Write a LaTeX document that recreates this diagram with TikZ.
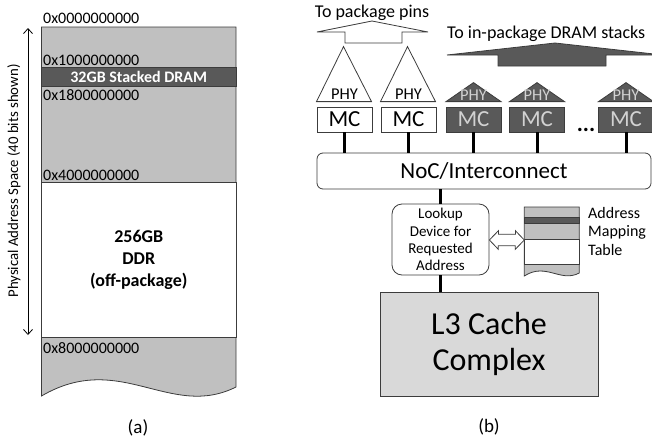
\documentclass[tikz,border=0pt]{standalone}
\usepackage{fontspec}
\setmainfont{Carlito}
\usetikzlibrary{arrows.meta,calc}

\definecolor{memgray}{RGB}{192,192,192}
\definecolor{darkfill}{RGB}{89,89,89}
\definecolor{edgegray}{RGB}{60,60,60}
\definecolor{cachegray}{RGB}{217,217,217}
\definecolor{lightlbl}{RGB}{210,210,210}

\tikzset{
  edge/.style={draw=edgegray, line width=0.8pt},
  bus/.style={line width=3pt},
  addr/.style={anchor=west, inner sep=0pt, font=\fontsize{16}{19}\selectfont},
  stackband/.style={edge, fill=darkfill, text=white, minimum width=194.5pt, minimum height=19pt, inner sep=0pt, font=\fontsize{16}{19}\selectfont\bfseries},
  ddrbox/.style={edge, fill=white, minimum width=194.5pt, minimum height=155pt, inner sep=0pt, align=center, font=\fontsize{18}{22}\selectfont\bfseries},
  toplbl/.style={anchor=base, inner sep=0pt, font=\fontsize{18}{21}\selectfont},
  mcbox/.style={edge, fill=white, minimum width=55pt, minimum height=25pt, inner sep=0pt, font=\fontsize{23}{27}\selectfont},
  mcdark/.style={mcbox, fill=darkfill, text=lightlbl},
  phylbl/.style={inner sep=0pt, font=\fontsize{16.5}{19}\selectfont},
  noc/.style={edge, fill=white, rounded corners=6pt, minimum width=334pt, minimum height=36pt, inner sep=0pt, font=\fontsize{23}{27}\selectfont},
  lookup/.style={edge, fill=white, rounded corners=10pt, minimum width=97pt, minimum height=71pt, inner sep=0pt, align=center, font=\fontsize{15}{17.2}\selectfont},
  cache/.style={edge, fill=cachegray, minimum width=218pt, minimum height=104pt, inner sep=0pt, align=center, font=\fontsize{32}{36}\selectfont},
  caption/.style={inner sep=0pt, font=\fontsize{19}{22}\selectfont}
}

\begin{document}
\begin{tikzpicture}[x=1pt,y=-1pt]
  \useasboundingbox (0,0) rectangle (652,442);
  \def\mL{41.5}
  \def\mR{236}

  % Address space (a)
  \filldraw[edge, fill=memgray] (\mL,27) -- (\mR,27) -- (\mR,387)
    .. controls (170,420) and (120,350) .. (\mL,396) -- cycle;
  \node[stackband] (stacked) at (138.75,76.5) {32GB Stacked DRAM};
  \node[ddrbox] (ddr) at (138.75,259.5) {256GB\\DDR\\(off-package)};

  \foreach \y/\t [count=\i] in {18/0x0000000000, 60/0x1000000000, 95/0x1800000000, 175/0x4000000000, 348/0x8000000000} {
    \node[addr] (addr\i) at (43,\y) {\t};
  }

  \coordinate (ytop) at (28,28);
  \coordinate (ybot) at (28,335);
  \draw[{Straight Barb[length=5pt,width=9pt]}-{Straight Barb[length=5pt,width=9pt]}, line width=0.8pt] (ytop) -- (ybot);
  \node[rotate=90, inner sep=0pt, font=\fontsize{14.8}{18}\selectfont] (spacelbl) at (14,181) {Physical Address Space (40 bits shown)};

  \node[caption] (capa) at (138,428) {(a)};

  % Off-package and in-package arrows
  \filldraw[edge, fill=white] (317,32) -- (372,21) -- (428,32) -- (402,32) -- (402,43) -- (345,43) -- (345,32) -- cycle;
  \node[toplbl] (pinslbl) at (372,17) {To package pins};
  \filldraw[edge, fill=darkfill] (447,55) -- (555,43) -- (663,55) -- (606,55) -- (606,66) -- (498,66) -- (498,55) -- cycle;
  \node[toplbl, anchor=base west] (stackslbl) at (447,38) {To in-package DRAM stacks};

  % Memory controllers
  \foreach \x/\n/\s in {344.5/1/mcbox, 408.5/2/mcbox, 473.5/3/mcdark, 537/4/mcdark, 626/5/mcdark} {
    \node[\s] (mc\n) at (\x,119.5) {MC};
  }

  % PHY triangles
  \foreach \n in {1,2} {
    \filldraw[edge, fill=white] ($(mc\n.north)+(-28,-5)$) -- ($(mc\n.north)+(-1,-60)$) -- ($(mc\n.north)+(27,-5)$) -- cycle;
    \node[phylbl] (phy\n) at ($(mc\n.north)+(0,-12.5)$) {PHY};
  }
  \foreach \n in {3,4,5} {
    \filldraw[edge, fill=darkfill] ($(mc\n.north)+(-27.5,-5)$) -- ($(mc\n.north)+(0,-24)$) -- ($(mc\n.north)+(27.5,-5)$) -- cycle;
    \node[phylbl, text=lightlbl] (phy\n) at ($(mc\n.north)+(0,-11.5)$) {PHY};
  }
  \node[anchor=base, inner sep=0pt, font=\fontsize{23}{27}\selectfont\bfseries] (dots) at (586,131) {...};

  % Interconnect
  \node[noc] (noc) at (484,171) {NoC/Interconnect};
  \foreach \n in {1,...,5} {
    \draw[bus] (mc\n.south) -- (mc\n.south |- noc.north);
  }

  % Lookup and mapping table
  \node[lookup] (lookup) at (440.5,239.5) {Lookup\\Device for\\Requested\\Address};
  \draw[bus] (noc.south -| lookup.north) -- (lookup.north);

  \def\tL{524.3}
  \def\tR{579.3}
  \filldraw[edge, fill=memgray] (\tL,207) -- (\tR,207) -- (\tR,273)
    .. controls (560.3,283) and (546,262) .. (\tL,276) -- cycle;
  \filldraw[edge, fill=darkfill] (\tL,217.3) rectangle (\tR,223.3);
  \filldraw[edge, fill=white] (\tL,239) rectangle (\tR,264.5);
  \coordinate (tbl) at (\tL,240);
  \node[anchor=north west, align=left, inner sep=0pt, font=\fontsize{16}{18.5}\selectfont] (tbllbl) at (588,207) {Address\\Mapping\\Table};

  \filldraw[edge, fill=white] (lookup.east |- tbl) -- ++(9,-9.3) -- ++(0,3.6) -- ++(17,0) -- ++(0,-3.6)
    -- (tbl) -- ++(-9,9.3) -- ++(0,-3.6) -- ++(-17,0) -- ++(0,3.6) -- cycle;

  % L3 cache
  \node[cache] (l3) at (489,344) {L3 Cache\\Complex};
  \draw[bus] (lookup.south) -- (lookup.south |- l3.north);

  \node[caption] (capb) at (489,427) {(b)};
\end{tikzpicture}
\end{document}
